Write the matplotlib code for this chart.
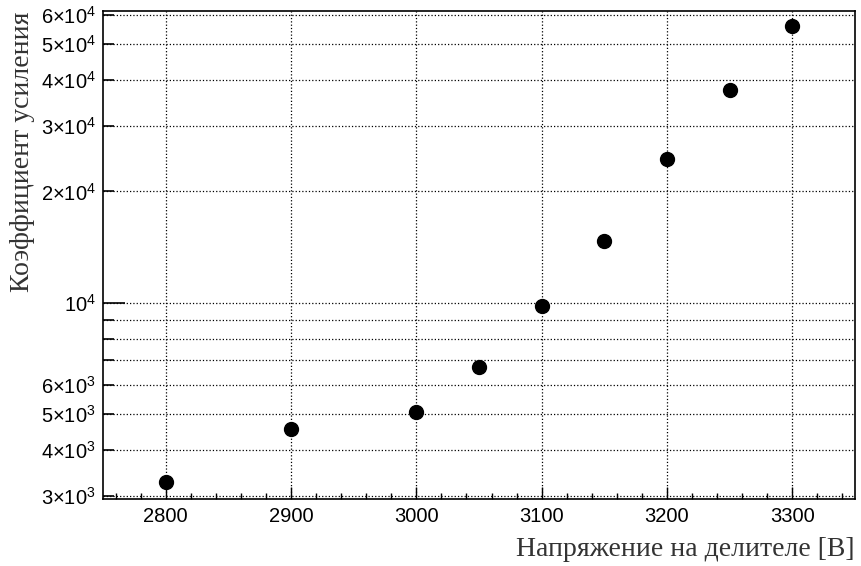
import numpy as np
import matplotlib
matplotlib.use('Agg')
import matplotlib.pyplot as plt
from matplotlib.ticker import FixedLocator, FixedFormatter

plt.rcParams['mathtext.fontset'] = 'custom'
plt.rcParams['mathtext.rm'] = 'Liberation Sans'
plt.rcParams['mathtext.it'] = 'Liberation Sans:italic'

# напряжение на делителе, В
voltage = [2800, 2900, 3000, 3050, 3100, 3150, 3200, 3250, 3300]
# коэффициент усиления
gain = [3270, 4550, 5060, 6700, 9800, 14700, 24500, 37600, 56000]

y_major = [1e4]
y_major_labels = [r'10$^{4}$']
y_minor = [3e3, 4e3, 5e3, 6e3, 7e3, 8e3, 9e3, 2e4, 3e4, 4e4, 5e4, 6e4]
y_minor_labels = ['3×10$^{3}$', '4×10$^{3}$', '5×10$^{3}$', '6×10$^{3}$',
                  '', '', '',
                  '2×10$^{4}$', '3×10$^{4}$', '4×10$^{4}$', '5×10$^{4}$', '6×10$^{4}$']

fig = plt.figure(figsize=(8.61, 5.66), dpi=100)
ax = fig.add_axes([103 / 861, 67 / 566, 752 / 861, 488 / 566])

ax.plot(voltage, gain, 'o', color='black', markersize=10, linestyle='none', zorder=3)

ax.set_yscale('log')
ax.set_xlim(2750, 3350)
ax.set_ylim(2945, 61500)

ax.xaxis.set_major_locator(FixedLocator(np.arange(2800, 3301, 100)))
ax.xaxis.set_minor_locator(FixedLocator(np.arange(2760, 3350, 20)))
ax.yaxis.set_major_locator(FixedLocator(y_major))
ax.yaxis.set_major_formatter(FixedFormatter(y_major_labels))
ax.yaxis.set_minor_locator(FixedLocator(y_minor))
ax.yaxis.set_minor_formatter(FixedFormatter(y_minor_labels))

ax.tick_params(axis='both', which='both', direction='in', labelsize=14.5, colors='black')
ax.tick_params(axis='x', which='major', length=9, width=1, pad=6)
ax.tick_params(axis='x', which='minor', length=4.5, width=1)
ax.tick_params(axis='y', which='major', length=16, width=1.2, pad=5)
ax.tick_params(axis='y', which='minor', length=8, width=1.2, pad=5, labelsize=14.5)
for lab in ax.get_xticklabels() + ax.get_yticklabels() + ax.get_yticklabels(minor=True):
    lab.set_family('Liberation Sans')

ax.grid(True, axis='x', which='major', linestyle=':', color='black', linewidth=0.9)
ax.grid(True, axis='y', which='both', linestyle=':', color='black', linewidth=0.9)

for s in ax.spines.values():
    s.set_linewidth(1.2)

ax.set_xlabel('Напряжение на делителе [В]', loc='right', fontsize=20,
              family='Liberation Serif', color='#333333', labelpad=8)
ax.set_ylabel('Коэффициент усиления', loc='top', fontsize=20,
              family='Liberation Serif', color='#333333', labelpad=4)

fig.savefig('out.png', dpi=100)
